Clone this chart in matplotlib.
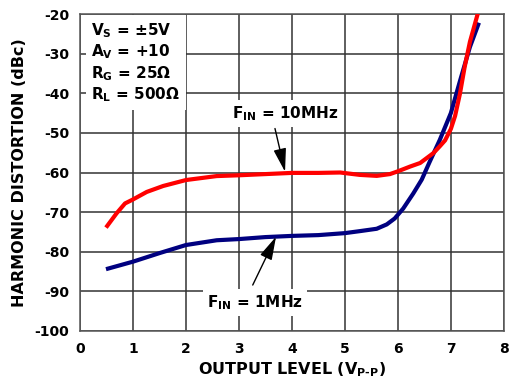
import matplotlib
matplotlib.use("Agg")
import matplotlib.pyplot as plt

plt.rcParams['font.family'] = ['DejaVu Sans']
plt.rcParams['font.weight'] = 'bold'
plt.rcParams['axes.unicode_minus'] = False
plt.rcParams['mathtext.fontset'] = 'custom'
plt.rcParams['mathtext.rm'] = 'DejaVu Sans:bold'
plt.rcParams['mathtext.it'] = 'DejaVu Sans:bold'
plt.rcParams['mathtext.bf'] = 'DejaVu Sans:bold'
plt.rcParams['mathtext.default'] = 'rm'

# Data
x_10mhz = [0.49, 0.69, 0.85, 1.0, 1.26, 1.57, 2.0, 2.58, 3.0, 3.5, 4.0, 4.5, 4.91, 5.28, 5.6,
           5.85, 6.0, 6.23, 6.42, 6.57, 6.67, 6.79, 6.89, 7.0, 7.08, 7.17, 7.26, 7.36, 7.51]
y_10mhz = [-73.9, -70.3, -67.8, -66.8, -64.9, -63.4, -61.9, -60.9, -60.7, -60.4, -60.1, -60.1,
           -60.0, -60.6, -60.85, -60.4, -59.7, -58.5, -57.6, -56.1, -55.1, -53.4, -51.9,
           -49.0, -45.7, -40.2, -33.4, -27.0, -19.8]

x_1mhz = [0.49, 1.0, 1.51, 2.0, 2.58, 3.0, 3.5, 4.0, 4.5, 5.0, 5.28, 5.6, 5.79, 5.94, 6.1,
          6.29, 6.45, 6.6, 6.79, 7.0, 7.17, 7.36, 7.53]
y_1mhz = [-84.4, -82.5, -80.3, -78.3, -77.1, -76.8, -76.3, -76.0, -75.8, -75.3, -74.8, -74.2,
          -73.1, -71.6, -69.1, -65.3, -61.8, -57.3, -51.8, -45.0, -37.0, -28.3, -22.2]

x_ticks = [0, 1, 2, 3, 4, 5, 6, 7, 8]
y_ticks = [-100, -90, -80, -70, -60, -50, -40, -30, -20]

conditions = "V$_S$ = ±5V\nA$_V$ = +10\nR$_G$ = 25Ω\nR$_L$ = 500Ω"
label_10 = "F$_{IN}$ = 10MHz"
label_1 = "F$_{IN}$ = 1MHz"
x_title = r"OUTPUT LEVEL (V$_{P\text{-}P}$)"
y_title = "HARMONIC DISTORTION (dBc)"

# annotation anchors (data coordinates)
label_10_pos = (3.87, -46.3)
arrow_10 = ((3.68, -48.9), (3.87, -59.8))
label_1_pos = (3.30, -94.1)
arrow_1 = ((3.26, -88.4), (3.70, -76.2))

fig = plt.figure(figsize=(5.11, 3.86), dpi=100)
ax = fig.add_axes([0.1566, 0.1425, 0.8294, 0.8212])

ax.set_xlim(0, 8)
ax.set_ylim(-100, -20)
ax.set_xticks(x_ticks)
ax.set_yticks(y_ticks)
ax.tick_params(length=0, labelsize=10, pad=8)
ax.grid(True, color='#333333', linewidth=1.1)
ax.set_axisbelow(True)
for s in ax.spines.values():
    s.set_color('#555555')
    s.set_linewidth(1.1)

ax.plot(x_1mhz, y_1mhz, color='#000080', linewidth=3, solid_capstyle='butt', zorder=3)
ax.plot(x_10mhz, y_10mhz, color='#ff0000', linewidth=3, solid_capstyle='butt', zorder=4)

ax.set_xlabel(x_title, fontsize=11.5, fontweight='bold', labelpad=3)
ax.set_ylabel(y_title, fontsize=11.5, fontweight='bold', labelpad=5)

ax.text(0.027, 0.978, conditions, transform=ax.transAxes, ha='left', va='top',
        fontsize=11, fontweight='bold', linespacing=1.2, zorder=5,
        bbox=dict(facecolor='white', edgecolor='none', pad=4))

ax.text(*label_10_pos, label_10, ha='center', va='baseline', fontsize=11,
        fontweight='bold', zorder=6,
        bbox=dict(facecolor='white', edgecolor='none', pad=3))
ax.text(*label_1_pos, label_1, ha='center', va='baseline', fontsize=11,
        fontweight='bold', zorder=6,
        bbox=dict(facecolor='white', edgecolor='none', pad=3))

arrow_style = '-|>,head_length=0.55,head_width=0.15'
for tail, tip in (arrow_10, arrow_1):
    ax.annotate("", xy=tip, xytext=tail, zorder=7,
                arrowprops=dict(arrowstyle=arrow_style, color='black', lw=1,
                                mutation_scale=26, shrinkA=0, shrinkB=0))

fig.savefig("out.png", dpi=100)
